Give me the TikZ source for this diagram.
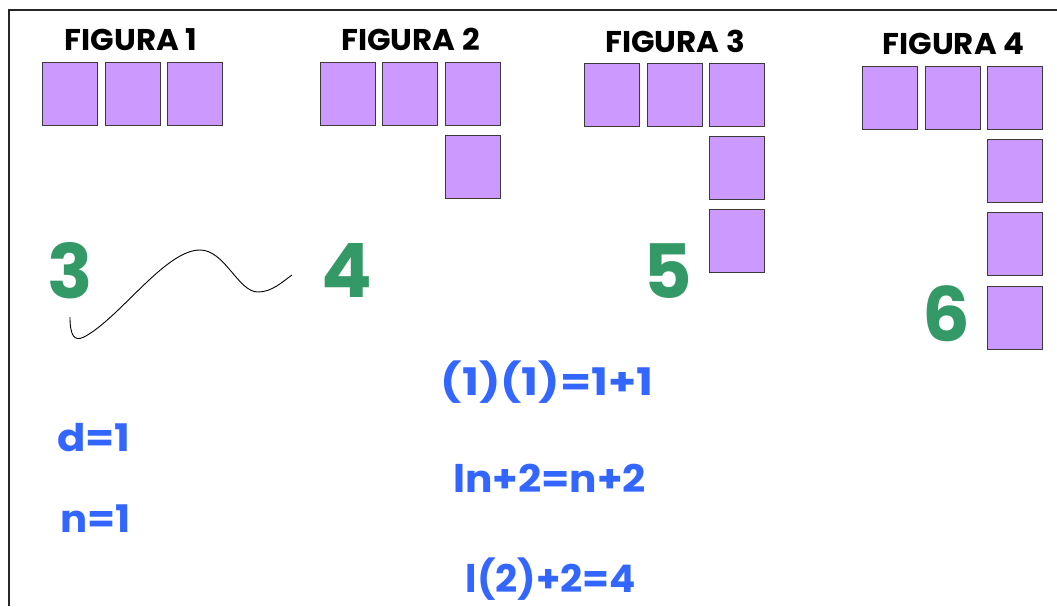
\documentclass[tikz,border=0pt]{standalone}
\usepackage{graphicx}
\usepackage{fontspec}
\setmainfont{Poppins}
\definecolor{tilefill}{HTML}{CC99FF}
\definecolor{tileedge}{HTML}{3A3A3A}
\definecolor{numgreen}{HTML}{339966}
\definecolor{eqblue}{HTML}{3366FF}
% horizontal stretch of a label
\newcommand{\wide}[2]{\scalebox{#1}[1]{#2}}
\tikzset{
  tile/.style={draw=tileedge, line width=1pt, fill=tilefill, minimum width=55pt, minimum height=63pt, inner sep=0pt},
  title/.style={font=\fontsize{30}{30}\selectfont\bfseries, text=black, inner sep=0pt, anchor=base},
  count/.style={font=\fontsize{75}{75}\selectfont\bfseries, text=numgreen, inner sep=0pt, anchor=base},
  eq/.style={font=\fontsize{38}{38}\selectfont\bfseries, text=eqblue, inner sep=0pt, anchor=base},
  frame/.style={line width=2pt, draw=black!85}
}
\begin{document}
\begin{tikzpicture}[x=1pt, y=-1pt]
\useasboundingbox (0,0) rectangle (1057,606);
\fill[white] (0,0) rectangle (1057,606);

% frame: top and left edges
\coordinate (ftl) at (9,10);
\coordinate (ftr) at (1057,10);
\coordinate (fbl) at (9,606);
\draw[frame] (ftr) -- (ftl) -- (fbl);

% titles
\node[title] (t1) at (131,50) {\wide{1.03}{FIGURA 1}};
\node[title] (t2) at (410.5,50) {\wide{1.03}{FIGURA 2}};
\node[title] (t3) at (675,52) {\wide{1.03}{FIGURA 3}};
\node[title] (t4) at (953.5,54) {\wide{1.03}{FIGURA 4}};

% figure 1
\node[tile] (a1) at (69.5,93.5) {};
\node[tile] (a2) at (132.5,93.5) {};
\node[tile] (a3) at (195,93.5) {};

% figure 2
\node[tile] (b1) at (348,93.5) {};
\node[tile] (b2) at (410,93.5) {};
\node[tile] (b3) at (473,93.5) {};
\node[tile] (b4) at (473,166.5) {};

% figure 3
\node[tile] (c1) at (612,94.5) {};
\node[tile] (c2) at (675,94.5) {};
\node[tile] (c3) at (737,94.5) {};
\node[tile] (c4) at (737,167.5) {};
\node[tile] (c5) at (737,240.5) {};

% figure 4
\node[tile] (d1) at (890,97.5) {};
\node[tile] (d2) at (952.5,97.5) {};
\node[tile] (d3) at (1015,97.5) {};
\node[tile] (d4) at (1015,170.5) {};
\node[tile] (d5) at (1015,244) {};
\node[tile] (d6) at (1015,317.5) {};

% tile counts
\node[count] (n3) at (70,298) {3};
\node[count] (n4) at (347,297) {4};
\node[count] (n5) at (667.5,298) {5};
\node[count] (n6) at (946,341) {6};

% hand-drawn stroke
\coordinate (w0) at (70,317);
\coordinate (w1) at (84,337);
\coordinate (w2) at (200,250);
\coordinate (w3) at (258,292);
\coordinate (w4) at (292,275);
\draw[line width=0.9pt, black] (w0) .. controls (70,335) and (74,342) .. (w1)
  .. controls (120,318) and (165,250) .. (w2)
  .. controls (225,250) and (238,292) .. (w3)
  .. controls (272,292) and (282,282) .. (w4);

% equations
\node[eq] (e1) at (547,395) {\wide{1.18}{(1)(1)=1+1}};
\node[eq, anchor=base west] (e2) at (57,451) {\wide{1.1}{d=1}};
\node[eq, anchor=base west] (e3) at (60,532) {\wide{1.06}{n=1}};
\node[eq] (e4) at (549.5,492) {\wide{1.07}{ln+2=n+2}};
\node[eq] (e5) at (551,592) {\wide{1.02}{l(2)+2=4}};
\end{tikzpicture}
\end{document}
